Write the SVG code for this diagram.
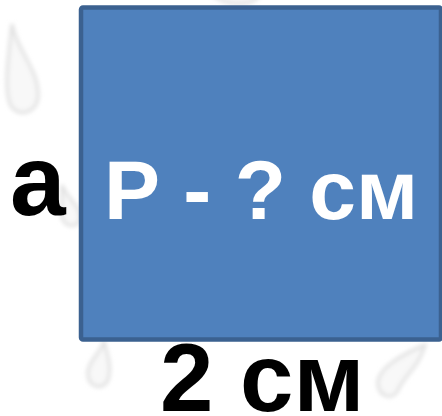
<svg xmlns="http://www.w3.org/2000/svg" width="442" height="416" viewBox="0 0 442 416">
  <defs>
    <filter id="blur" x="-50%" y="-50%" width="200%" height="200%">
      <feGaussianBlur stdDeviation="2.2"/>
    </filter>
    <style>
      .drop { fill: #f8f8f8; stroke: #e0e0e0; stroke-width: 3; filter: url(#blur); }
      .lbl { font-family: "Liberation Sans", Arial, sans-serif; font-weight: bold; }
    </style>
  </defs>
  <rect width="442" height="416" fill="#ffffff"/>
  <g id="droplets">
    <path class="drop" d="M12,24 C16,50 40,70 38,98 C36,114 16,118 10,104 C4,88 8,60 12,24 Z"/>
    <path class="drop" d="M62,185 C68,200 80,205 80,218 C78,228 66,228 62,218 Z"/>
    <path class="drop" d="M104,342 C108,356 112,368 108,380 C103,390 90,388 88,376 C86,364 98,356 104,342 Z"/>
    <path class="drop" d="M425,345 C420,365 405,375 398,390 C394,400 380,398 378,385 C376,370 400,355 425,345 Z"/>
    <path class="drop" d="M212,-6 C220,2 235,6 250,2 C256,0 260,-4 262,-8 Z"/>
  </g>
  <g id="square">
    <rect x="81" y="7.5" width="360" height="332" rx="2" fill="#4f81bd" stroke="#3b6190" stroke-width="4.5"/>
    <text class="lbl" x="104" y="219" font-size="84" fill="#ffffff">Р - ? см</text>
  </g>
  <g id="label-a">
    <text class="lbl" x="10" y="215" font-size="100" fill="#000000">а</text>
  </g>
  <g id="label-2cm">
    <text class="lbl" x="160" y="411" font-size="96" fill="#000000">2 см</text>
  </g>
</svg>
